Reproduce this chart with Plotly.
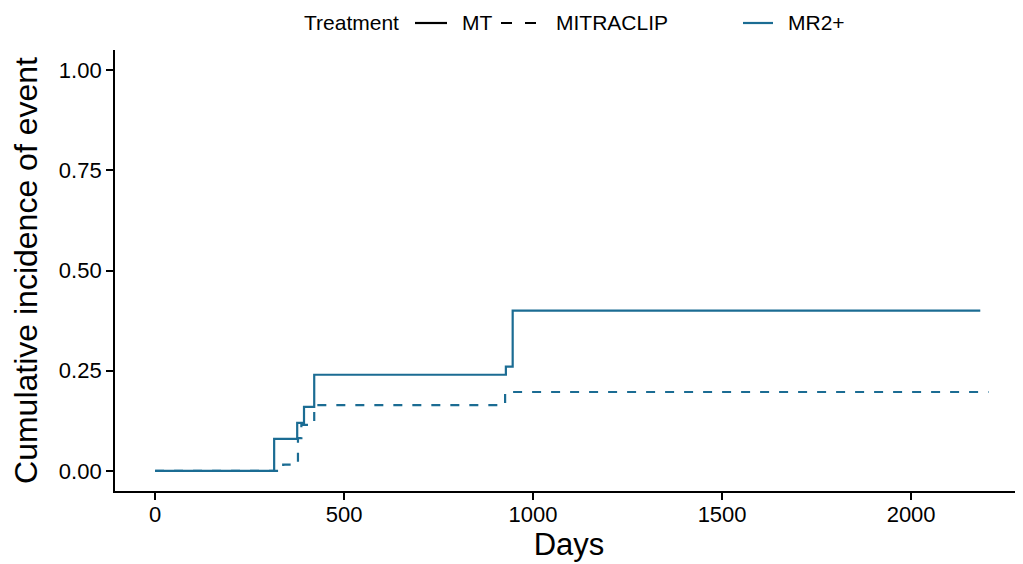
import plotly.graph_objects as go

# MT (solid) step curve: event days and cumulative incidence
mt_days = [0, 315, 376, 394, 421, 928, 946, 2183]
mt_cif = [0.0, 0.08, 0.12, 0.16, 0.24, 0.26, 0.40, 0.40]

# MITRACLIP (dashed) step curve
mc_days = [0, 339, 378, 387, 421, 926, 2205]
mc_cif = [0.0, 0.016, 0.082, 0.115, 0.164, 0.197, 0.197]

x_ticks = [0, 500, 1000, 1500, 2000]
y_ticks = [0.0, 0.25, 0.5, 0.75, 1.0]
y_tick_labels = ["0.00", "0.25", "0.50", "0.75", "1.00"]

legend_title = "Treatment"
legend_labels = ["MT", "MITRACLIP", "MR2+"]

BLUE = "#1b6c93"
FONT = "Liberation Sans, Arial, sans-serif"

# the page body has an 8px margin, so the figure is drawn 8px smaller and
# all page-pixel positions are shifted by 8px
OFF = 8
W, H = 1023 - OFF, 564 - OFF
L, R, T, B = 115 - OFF, 0, 50 - OFF, 73
PW, PH = W - L - R, H - T - B


def px_x(x):
    return (x - OFF - L) / PW


def px_y(y):
    return (H - B - (y - OFF)) / PH


fig = go.Figure()

fig.add_trace(go.Scatter(x=mt_days, y=mt_cif, mode="lines", line_shape="hv",
                         line=dict(color=BLUE, width=2.2), showlegend=False,
                         name=legend_labels[0]))
fig.add_trace(go.Scatter(x=mc_days, y=mc_cif, mode="lines", line_shape="hv",
                         line=dict(color=BLUE, width=2.2, dash="9px,10px"),
                         showlegend=False, name=legend_labels[1]))

# legend drawn in the top margin (ggplot-style: linetype guide + colour guide)
LEG_Y = 23
leg_font = dict(family=FONT, size=21, color="black")
for txt, xpos in [(legend_title, 303), (legend_labels[0], 461),
                  (legend_labels[1], 555), (legend_labels[2], 787)]:
    fig.add_annotation(x=px_x(xpos), y=px_y(LEG_Y), xref="paper", yref="paper",
                       text=txt, showarrow=False, xanchor="left", yanchor="middle",
                       font=leg_font, borderpad=0)
for x0, x1, color, dash in [(415, 447, "black", "solid"),
                            (501, 536, "black", "11px,13px"),
                            (743, 773, BLUE, "solid")]:
    fig.add_shape(type="line", xref="paper", yref="paper",
                  x0=px_x(x0), x1=px_x(x1), y0=px_y(LEG_Y), y1=px_y(LEG_Y),
                  line=dict(color=color, width=2.2, dash=dash))

fig.update_layout(
    width=W, height=H,
    paper_bgcolor="white", plot_bgcolor="white",
    margin=dict(l=L, r=R, t=T, b=B),
    font=dict(family=FONT, color="black"),
    showlegend=False,
    xaxis=dict(range=[-106, 2296], tickvals=x_ticks, ticks="outside", ticklen=7,
               tickwidth=1.8, tickcolor="black", showline=True, linecolor="black",
               linewidth=1.8, showgrid=False, zeroline=False, automargin=False,
               tickfont=dict(size=22, color="black"), ticklabelstandoff=-4,
               title=dict(text="Days", font=dict(size=31, color="black"), standoff=5)),
    yaxis=dict(range=[-0.05, 1.05], tickvals=y_ticks, ticktext=y_tick_labels,
               ticks="outside", ticklen=7, tickwidth=1.8, tickcolor="black",
               showline=True, linecolor="black", linewidth=1.8, showgrid=False,
               zeroline=False, automargin=False, tickfont=dict(size=22, color="black"),
               title=dict(text="Cumulative incidence of event",
                          font=dict(size=32, color="black"), standoff=14)),
)

fig.write_html("out.html")
